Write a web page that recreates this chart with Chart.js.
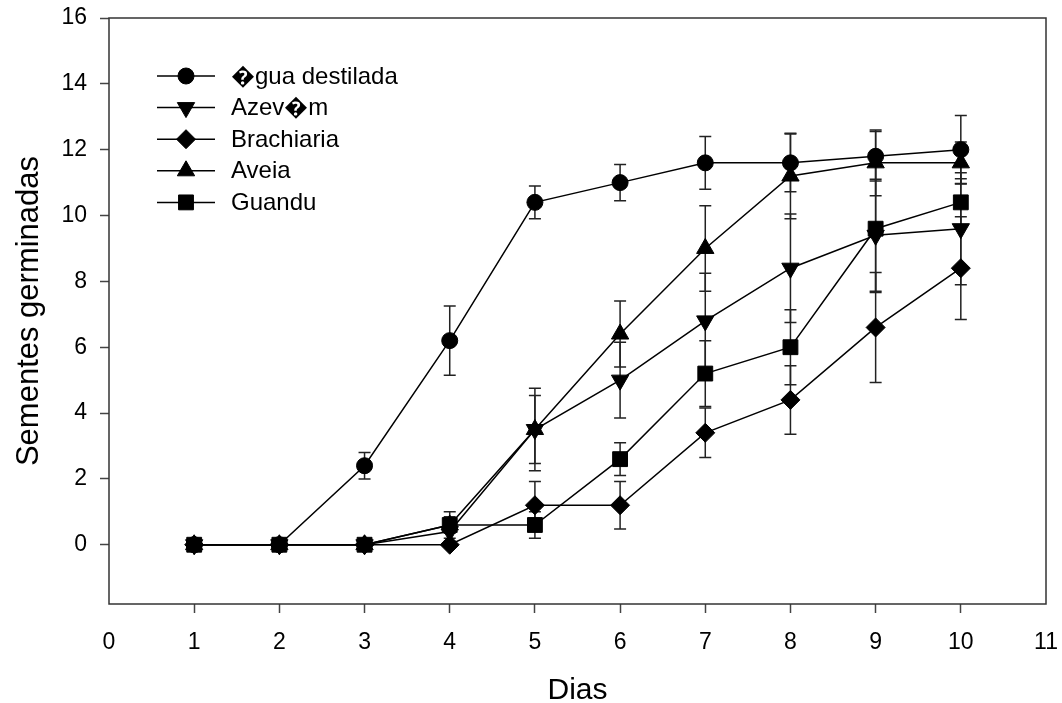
<!DOCTYPE html>
<html>
<head>
<meta charset="utf-8">
<script src="https://cdn.jsdelivr.net/npm/chart.js@4/dist/chart.umd.min.js"></script>
<style>
  html, body { margin: 0; padding: 0; background: #fff; }
  #wrap { width: 1062px; height: 703px; }
</style>
</head>
<body>
<div id="wrap"><canvas id="chart" width="1062" height="703"></canvas></div>
<script>
const days = [1, 2, 3, 4, 5, 6, 7, 8, 9, 10];

const agua = [0, 0, 2.4, 6.2, 10.4, 11.0, 11.6, 11.6, 11.8, 12.0];
const aguaErr = [0, 0, 0.4, 1.05, 0.5, 0.55, 0.8, 0.88, 0.75, 1.04];

const azevem = [0, 0, 0, 0.4, 3.5, 5.0, 6.8, 8.4, 9.4, 9.6];
const azevemErr = [0, 0, 0, 0.3, 1.25, 1.15, 1.45, 1.65, 1.7, 1.7];

const brachiaria = [0, 0, 0, 0, 1.2, 1.2, 3.4, 4.4, 6.6, 8.4];
const brachiariaErr = [0, 0, 0, 0, 0.72, 0.72, 0.75, 1.04, 1.67, 1.56];

const aveia = [0, 0, 0, 0.6, 3.5, 6.4, 9.0, 11.2, 11.6, 11.6];
const aveiaErr = [0, 0, 0, 0.25, 1.03, 1.0, 1.3, 1.3, 1.0, 0.63];

const guandu = [0, 0, 0, 0.6, 0.6, 2.6, 5.2, 6.0, 9.6, 10.4];
const guanduErr = [0, 0, 0, 0.4, 0.4, 0.5, 1.0, 1.14, 1.94, 0.72];

const xTicks = [0, 1, 2, 3, 4, 5, 6, 7, 8, 9, 10, 11];
const yTicks = [0, 2, 4, 6, 8, 10, 12, 14, 16];

const FONT = "'Liberation Sans', Arial, Helvetica, sans-serif";

function toPoints(values) {
  return days.map((day, index) => ({ x: day, y: values[index] }));
}

function makeSeries(label, values, errors, pointStyle, radius, rotation) {
  return {
    label,
    data: toPoints(values),
    errors,
    borderColor: "#000",
    backgroundColor: "#000",
    borderWidth: 1.5,
    pointStyle,
    pointRadius: radius,
    pointRotation: rotation || 0,
    pointBackgroundColor: "#000",
    pointBorderColor: "#000",
    pointBorderWidth: 1,
    tension: 0,
  };
}

const errorBarPlugin = {
  id: "errorBars",
  beforeDatasetsDraw(chart) {
    const { ctx } = chart;
    const yScale = chart.scales.y;
    ctx.save();
    ctx.strokeStyle = "#222";
    ctx.lineWidth = 1.5;
    chart.data.datasets.forEach((dataset, datasetIndex) => {
      const meta = chart.getDatasetMeta(datasetIndex);
      meta.data.forEach((point, index) => {
        const err = dataset.errors[index];
        if (!err) {
          return;
        }
        const value = dataset.data[index].y;
        const top = yScale.getPixelForValue(value + err);
        const bottom = yScale.getPixelForValue(value - err);
        const x = point.x;
        ctx.beginPath();
        ctx.moveTo(x, top);
        ctx.lineTo(x, bottom);
        ctx.moveTo(x - 6, top);
        ctx.lineTo(x + 6, top);
        ctx.moveTo(x - 6, bottom);
        ctx.lineTo(x + 6, bottom);
        ctx.stroke();
      });
    });
    ctx.restore();
  },
};

const framePlugin = {
  id: "frame",
  afterDraw(chart) {
    const { ctx, chartArea } = chart;
    ctx.save();
    ctx.strokeStyle = "#333";
    ctx.lineWidth = 1.5;
    ctx.strokeRect(
      chartArea.left,
      chartArea.top,
      chartArea.right - chartArea.left,
      chartArea.bottom - chartArea.top
    );
    ctx.restore();
  },
};

const legendPlugin = {
  id: "lineLegend",
  afterDatasetsDraw(chart) {
    const { ctx, chartArea } = chart;
    const lineStart = chartArea.left + 48;
    const lineEnd = lineStart + 58;
    const textX = lineEnd + 16;
    let y = chartArea.top + 58;

    ctx.save();
    ctx.font = `24px ${FONT}`;
    ctx.textBaseline = "middle";
    ctx.textAlign = "left";
    chart.data.datasets.forEach((dataset) => {
      ctx.strokeStyle = "#000";
      ctx.fillStyle = "#000";
      ctx.lineWidth = 1.5;
      ctx.beginPath();
      ctx.moveTo(lineStart, y);
      ctx.lineTo(lineEnd, y);
      ctx.stroke();
      ctx.lineWidth = 1;
      Chart.helpers.drawPoint(
        ctx,
        {
          pointStyle: dataset.pointStyle,
          radius: dataset.pointRadius,
          rotation: dataset.pointRotation,
          borderWidth: 1,
        },
        (lineStart + lineEnd) / 2,
        y
      );
      ctx.fillText(dataset.label, textX, y + 1);
      y += 31.6;
    });
    ctx.restore();
  },
};

function hideEdgeTicks(context) {
  const value = context.tick ? context.tick.value : null;
  return value === 0 || value === 11 ? "rgba(0,0,0,0)" : "#444";
}

new Chart(document.getElementById("chart"), {
  type: "line",
  data: {
    datasets: [
      makeSeries("\uFFFDgua destilada", agua, aguaErr, "circle", 8),
      makeSeries("Azev\uFFFDm", azevem, azevemErr, "triangle", 10, 180),
      makeSeries("Brachiaria", brachiaria, brachiariaErr, "rectRot", 9.5),
      makeSeries("Aveia", aveia, aveiaErr, "triangle", 10),
      makeSeries("Guandu", guandu, guanduErr, "rect", 10.5),
    ],
  },
  options: {
    responsive: false,
    animation: false,
    devicePixelRatio: 1,
    layout: {
      padding: { top: 18, right: 16, left: 0, bottom: 0 },
    },
    plugins: {
      legend: { display: false },
      tooltip: { enabled: false },
    },
    scales: {
      x: {
        type: "linear",
        min: 0,
        max: 11,
        afterBuildTicks: (scale) => {
          scale.ticks = xTicks.map((value) => ({ value }));
        },
        afterFit: (scale) => {
          scale.height = 99;
          scale.paddingLeft = 0;
          scale.paddingRight = 0;
        },
        grid: {
          drawOnChartArea: false,
          drawTicks: true,
          tickLength: 9,
          tickWidth: 1.5,
          tickColor: hideEdgeTicks,
        },
        border: { display: false },
        ticks: {
          color: "#000",
          padding: 16,
          maxRotation: 0,
          font: { family: FONT, size: 23 },
        },
        title: {
          display: true,
          text: "Dias",
          color: "#000",
          font: { family: FONT, size: 30, lineHeight: 0.85 },
          padding: { top: 0, bottom: 0 },
        },
      },
      y: {
        type: "linear",
        min: -1.8,
        max: 16,
        afterBuildTicks: (scale) => {
          scale.ticks = yTicks.map((value) => ({ value }));
        },
        afterFit: (scale) => {
          scale.width = 109;
          scale.paddingTop = 0;
          scale.paddingBottom = 0;
        },
        grid: {
          drawOnChartArea: false,
          drawTicks: true,
          tickLength: 9,
          tickWidth: 1.5,
          tickColor: "#444",
        },
        border: { display: false },
        ticks: {
          color: "#000",
          padding: 13,
          font: { family: FONT, size: 23 },
        },
        title: {
          display: true,
          text: "Sementes germinadas",
          color: "#000",
          font: { family: FONT, size: 31, lineHeight: 1 },
          padding: { top: 14, bottom: 0 },
        },
      },
    },
  },
  plugins: [errorBarPlugin, legendPlugin, framePlugin],
});
</script>
</body>
</html>
